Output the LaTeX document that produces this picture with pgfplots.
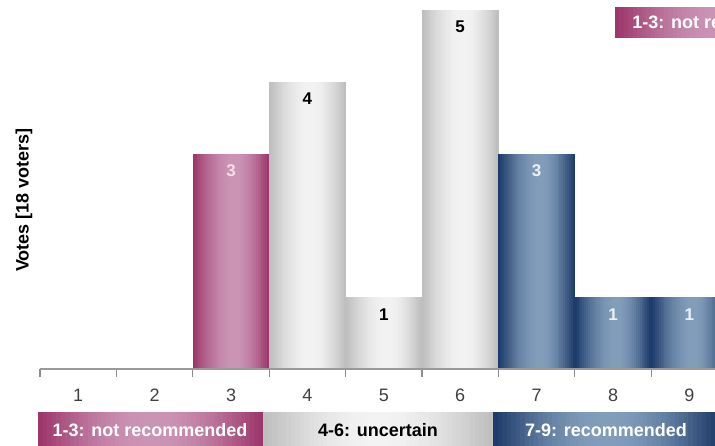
\documentclass[border=0pt]{standalone}
\usepackage{fontspec}
\setmainfont{Liberation Sans}
\usepackage{pgfplots}
\pgfplotsset{compat=1.18}
\definecolor{magD}{HTML}{9C3469}
\definecolor{magL}{HTML}{CB95B6}
\definecolor{bluD}{HTML}{1B3969}
\definecolor{bluL}{HTML}{839EBB}
\definecolor{gryD}{HTML}{BDBDBD}
\definecolor{gryL}{HTML}{F3F3F3}
\definecolor{pinkTxt}{HTML}{F4DDE9}
% gradient bar through the axis: #1 x, #2 value, #3 dark, #4 light
\newcommand\gradbar[4]{%
 \pgfplotsinvokeforeach{0,...,39}{%
   \pgfmathsetmacro\sh{-0.5+(##1+0.5)/40}%
   \pgfmathsetmacro\tv{(##1+0.5)/40}%
   \pgfmathsetmacro\pc{int(100*sin(90*min(\tv/0.55,(1-\tv)/0.45)))}%
   \edef\tmp{\noexpand\addplot[ybar, bar width=0.028, bar shift=\sh, draw=none, fill=#4!\pc!#3, forget plot] coordinates {(#1,#2)};}\tmp
 }}
% gradient rectangle in TikZ (decoration bands): x0,y0,x1,y1 (pt), dark, light
\newcommand\gradrect[6]{%
 \foreach \i in {0,...,49}{%
   \pgfmathsetmacro\xa{#1+(#3-#1)*\i/50}%
   \pgfmathsetmacro\xb{#1+(#3-#1)*(\i+1.15)/50}%
   \pgfmathsetmacro\tv{(\i+0.5)/50}%
   \pgfmathsetmacro\pc{int(100*sin(90*min(\tv/0.5,(1-\tv)/0.5)))}%
   \fill[#6!\pc!#5] (\xa pt,#2 pt) rectangle (\xb pt,#4 pt);
 }}
\begin{document}
\begin{tikzpicture}
\useasboundingbox (-20pt,-38pt) rectangle (337.5pt,184.5pt);
\clip (-20pt,-38pt) rectangle (337.5pt,184.5pt);
\begin{axis}[at={(0pt,0pt)}, anchor=south west, scale only axis,
  width=337.5pt, height=184.5pt,
  xmin=0.5, xmax=9.335, ymin=0, ymax=5.139,
  axis line style={draw=none},
  xtick={1,...,9}, ytick=\empty,
  minor xtick={0.5,1.5,...,9.5},
  major tick length=0pt, minor tick length=4pt,
  tick align=outside, xtick pos=bottom,
  minor tick style={draw=black!45, line width=0.6pt},
  xticklabel style={font=\fontsize{9}{10}\selectfont, text=black!75, anchor=center, yshift=-13pt},
  /pgf/number format/assume math mode=true,
  ]
\gradbar{3}{3}{magD}{magL}
\gradbar{4}{4}{gryD}{gryL}
\gradbar{5}{1}{gryD}{gryL}
\gradbar{6}{5}{gryD}{gryL}
\gradbar{7}{3}{bluD}{bluL}
\gradbar{8}{1}{bluD}{bluL}
\gradbar{9}{1}{bluD}{bluL}
% value labels
\addplot[ybar, bar width=1, bar shift=0pt, draw=none, fill=none,
  nodes near coords, every node near coord/.append style={font=\bfseries\fontsize{8.5}{10}\selectfont, text=pinkTxt, anchor=center, yshift=-8.5pt}]
  coordinates {(3,3)};
\addplot[ybar, bar width=1, bar shift=0pt, draw=none, fill=none,
  nodes near coords, every node near coord/.append style={font=\bfseries\fontsize{8.5}{10}\selectfont, text=black, anchor=center, yshift=-8.5pt}]
  coordinates {(4,4) (5,1) (6,5)};
\addplot[ybar, bar width=1, bar shift=0pt, draw=none, fill=none,
  nodes near coords, every node near coord/.append style={font=\bfseries\fontsize{8.5}{10}\selectfont, text=white!85!bluL, anchor=center, yshift=-8.5pt}]
  coordinates {(7,3) (8,1) (9,1)};
\draw[black!40, line width=0.6pt] (axis cs:0.5,0) -- (axis cs:9.335,0);
\end{axis}
% y label
\node[rotate=90, font=\bfseries\fontsize{9}{10}\selectfont] at (-8pt,84.5pt) {Votes [18 voters]};
% bottom bands
\gradrect{-1}{-21.5}{111.5}{-40}{magD}{magL}
\gradrect{111.5}{-21.5}{226.5}{-40}{gryD}{gryL}
\gradrect{226.5}{-21.5}{340}{-40}{bluD}{bluL}
\node[font=\bfseries\fontsize{9}{10}\selectfont, text=white] at (55pt,-30.5pt) {1-3: not recommended};
\node[font=\bfseries\fontsize{9}{10}\selectfont, text=black] at (169pt,-30.5pt) {4-6: uncertain};
\node[font=\bfseries\fontsize{9}{10}\selectfont, text=white] at (283pt,-30.5pt) {7-9: recommended};
% top-right legend box (cropped as in the reference)
\gradrect{287.5}{165.5}{398.5}{181}{magD}{magL}
\node[font=\bfseries\fontsize{9}{10}\selectfont, text=white, anchor=west, inner sep=0pt] at (296pt,173.3pt) {1-3: not recommended};
\end{tikzpicture}
\end{document}
